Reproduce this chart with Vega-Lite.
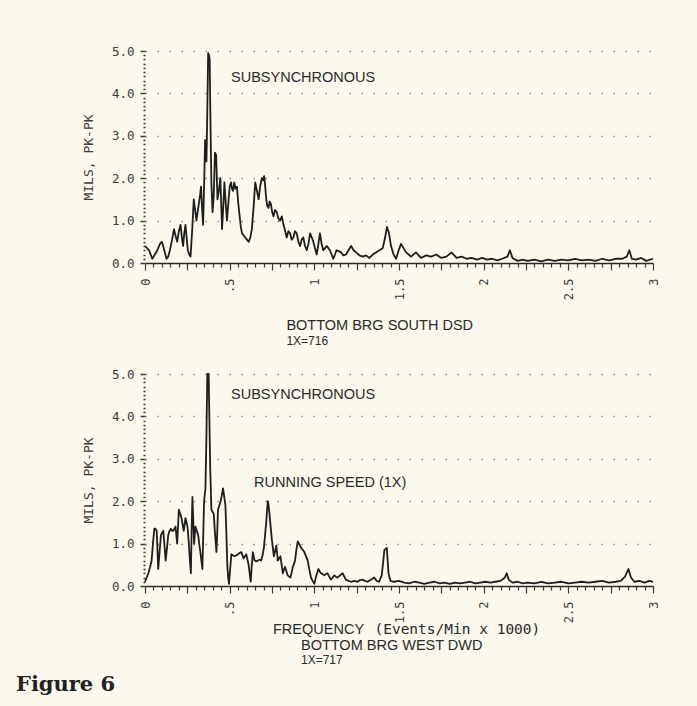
{
  "$schema": "https://vega.github.io/schema/vega-lite/v6.json",
  "background": "#fbf8ed",
  "padding": {"left": 15, "top": 45, "right": 41, "bottom": 11},
  "config": {
    "view": {"stroke": null},
    "axis": {
      "labelFont": "DejaVu Sans Mono",
      "labelFontSize": 12,
      "labelColor": "#3a3a3a",
      "titleFont": "DejaVu Sans Mono",
      "titleFontWeight": "normal",
      "titleFontSize": 13,
      "titleColor": "#3a3a3a",
      "tickColor": "#3a3a3a",
      "domainColor": "#2a2a2a",
      "gridColor": "#8a8a8a",
      "labelOverlap": false,
      "labelFlush": false,
      "labelBound": false
    }
  },
  "datasets": {
    "top": [
      {"f":0.000,"a":0.40},{"f":0.012,"a":0.35},{"f":0.024,"a":0.30},{"f":0.043,"a":0.10},{"f":0.058,"a":0.20},{"f":0.073,"a":0.30},{"f":0.088,"a":0.45},{"f":0.100,"a":0.50},{"f":0.114,"a":0.30},{"f":0.127,"a":0.10},{"f":0.137,"a":0.15},{"f":0.147,"a":0.30},{"f":0.160,"a":0.55},{"f":0.171,"a":0.80},{"f":0.180,"a":0.65},{"f":0.190,"a":0.50},{"f":0.200,"a":0.75},{"f":0.210,"a":0.90},{"f":0.218,"a":0.60},{"f":0.225,"a":0.40},{"f":0.232,"a":0.70},{"f":0.239,"a":0.90},{"f":0.246,"a":0.60},{"f":0.253,"a":0.30},{"f":0.261,"a":0.20},{"f":0.269,"a":0.15},{"f":0.279,"a":0.80},{"f":0.288,"a":1.50},{"f":0.296,"a":1.25},{"f":0.304,"a":1.00},{"f":0.311,"a":1.20},{"f":0.318,"a":1.40},{"f":0.325,"a":1.60},{"f":0.331,"a":1.80},{"f":0.337,"a":1.30},{"f":0.343,"a":0.90},{"f":0.349,"a":1.80},{"f":0.355,"a":2.90},{"f":0.359,"a":2.70},{"f":0.363,"a":2.40},{"f":0.368,"a":3.60},{"f":0.373,"a":4.95},{"f":0.378,"a":4.90},{"f":0.382,"a":4.80},{"f":0.387,"a":3.20},{"f":0.392,"a":1.90},{"f":0.399,"a":1.20},{"f":0.406,"a":1.60},{"f":0.413,"a":2.60},{"f":0.420,"a":2.55},{"f":0.428,"a":1.50},{"f":0.436,"a":1.70},{"f":0.445,"a":2.00},{"f":0.455,"a":0.80},{"f":0.462,"a":1.30},{"f":0.469,"a":1.90},{"f":0.477,"a":1.40},{"f":0.484,"a":1.00},{"f":0.492,"a":1.40},{"f":0.500,"a":1.80},{"f":0.508,"a":1.90},{"f":0.514,"a":1.75},{"f":0.520,"a":1.70},{"f":0.527,"a":1.90},{"f":0.535,"a":1.75},{"f":0.543,"a":1.80},{"f":0.551,"a":1.40},{"f":0.559,"a":1.10},{"f":0.566,"a":0.85},{"f":0.573,"a":0.70},{"f":0.583,"a":0.65},{"f":0.592,"a":0.60},{"f":0.602,"a":0.55},{"f":0.612,"a":0.50},{"f":0.622,"a":0.60},{"f":0.631,"a":0.80},{"f":0.641,"a":1.30},{"f":0.651,"a":1.90},{"f":0.661,"a":1.70},{"f":0.671,"a":1.50},{"f":0.680,"a":1.80},{"f":0.690,"a":2.00},{"f":0.697,"a":1.95},{"f":0.704,"a":2.05},{"f":0.710,"a":1.80},{"f":0.716,"a":1.50},{"f":0.722,"a":1.35},{"f":0.729,"a":1.30},{"f":0.736,"a":1.45},{"f":0.743,"a":1.40},{"f":0.751,"a":1.20},{"f":0.759,"a":1.10},{"f":0.768,"a":1.25},{"f":0.778,"a":1.20},{"f":0.788,"a":1.05},{"f":0.798,"a":1.00},{"f":0.808,"a":1.10},{"f":0.818,"a":0.90},{"f":0.828,"a":0.75},{"f":0.837,"a":0.60},{"f":0.847,"a":0.75},{"f":0.857,"a":0.70},{"f":0.866,"a":0.55},{"f":0.876,"a":0.60},{"f":0.886,"a":0.75},{"f":0.896,"a":0.70},{"f":0.906,"a":0.50},{"f":0.916,"a":0.40},{"f":0.925,"a":0.55},{"f":0.935,"a":0.60},{"f":0.945,"a":0.40},{"f":0.955,"a":0.30},{"f":0.965,"a":0.45},{"f":0.975,"a":0.70},{"f":0.985,"a":0.60},{"f":0.994,"a":0.50},{"f":1.004,"a":0.35},{"f":1.014,"a":0.20},{"f":1.024,"a":0.45},{"f":1.033,"a":0.70},{"f":1.043,"a":0.45},{"f":1.053,"a":0.30},{"f":1.063,"a":0.35},{"f":1.073,"a":0.40},{"f":1.083,"a":0.35},{"f":1.092,"a":0.30},{"f":1.102,"a":0.20},{"f":1.112,"a":0.10},{"f":1.122,"a":0.20},{"f":1.131,"a":0.30},{"f":1.145,"a":0.28},{"f":1.158,"a":0.25},{"f":1.172,"a":0.18},{"f":1.187,"a":0.20},{"f":1.202,"a":0.30},{"f":1.217,"a":0.40},{"f":1.232,"a":0.30},{"f":1.246,"a":0.25},{"f":1.266,"a":0.18},{"f":1.286,"a":0.15},{"f":1.305,"a":0.18},{"f":1.325,"a":0.12},{"f":1.345,"a":0.20},{"f":1.364,"a":0.25},{"f":1.384,"a":0.30},{"f":1.404,"a":0.35},{"f":1.418,"a":0.60},{"f":1.429,"a":0.85},{"f":1.441,"a":0.70},{"f":1.453,"a":0.40},{"f":1.468,"a":0.20},{"f":1.483,"a":0.10},{"f":1.498,"a":0.30},{"f":1.512,"a":0.45},{"f":1.527,"a":0.35},{"f":1.542,"a":0.25},{"f":1.557,"a":0.20},{"f":1.571,"a":0.15},{"f":1.585,"a":0.20},{"f":1.600,"a":0.25},{"f":1.63,"a":0.12},{"f":1.66,"a":0.18},{"f":1.69,"a":0.15},{"f":1.72,"a":0.20},{"f":1.75,"a":0.12},{"f":1.78,"a":0.15},{"f":1.81,"a":0.25},{"f":1.84,"a":0.12},{"f":1.87,"a":0.15},{"f":1.90,"a":0.10},{"f":1.93,"a":0.12},{"f":1.96,"a":0.08},{"f":1.99,"a":0.12},{"f":2.02,"a":0.08},{"f":2.05,"a":0.10},{"f":2.08,"a":0.06},{"f":2.11,"a":0.10},{"f":2.14,"a":0.15},{"f":2.155,"a":0.30},{"f":2.17,"a":0.12},{"f":2.20,"a":0.05},{"f":2.23,"a":0.08},{"f":2.26,"a":0.05},{"f":2.30,"a":0.08},{"f":2.34,"a":0.04},{"f":2.38,"a":0.08},{"f":2.42,"a":0.05},{"f":2.46,"a":0.08},{"f":2.50,"a":0.06},{"f":2.54,"a":0.10},{"f":2.58,"a":0.06},{"f":2.62,"a":0.08},{"f":2.66,"a":0.05},{"f":2.70,"a":0.10},{"f":2.74,"a":0.06},{"f":2.78,"a":0.10},{"f":2.82,"a":0.10},{"f":2.845,"a":0.15},{"f":2.86,"a":0.30},{"f":2.875,"a":0.10},{"f":2.90,"a":0.08},{"f":2.93,"a":0.12},{"f":2.96,"a":0.05},{"f":3.00,"a":0.10}
    ],
    "bottom": [
      {"f":0.000,"a":0.10},{"f":0.010,"a":0.20},{"f":0.020,"a":0.30},{"f":0.030,"a":0.45},{"f":0.039,"a":0.60},{"f":0.047,"a":1.00},{"f":0.055,"a":1.35},{"f":0.062,"a":1.35},{"f":0.069,"a":1.30},{"f":0.078,"a":0.40},{"f":0.086,"a":0.80},{"f":0.094,"a":1.20},{"f":0.101,"a":1.25},{"f":0.108,"a":1.30},{"f":0.115,"a":0.95},{"f":0.122,"a":0.60},{"f":0.130,"a":0.90},{"f":0.137,"a":1.20},{"f":0.145,"a":1.30},{"f":0.153,"a":1.35},{"f":0.160,"a":1.30},{"f":0.167,"a":1.30},{"f":0.174,"a":1.35},{"f":0.180,"a":1.40},{"f":0.185,"a":1.20},{"f":0.190,"a":1.00},{"f":0.195,"a":1.40},{"f":0.200,"a":1.80},{"f":0.208,"a":1.70},{"f":0.216,"a":1.60},{"f":0.222,"a":1.45},{"f":0.229,"a":1.30},{"f":0.234,"a":1.45},{"f":0.239,"a":1.60},{"f":0.245,"a":1.50},{"f":0.251,"a":1.40},{"f":0.255,"a":1.20},{"f":0.259,"a":1.00},{"f":0.265,"a":0.60},{"f":0.271,"a":0.30},{"f":0.275,"a":1.20},{"f":0.280,"a":2.10},{"f":0.285,"a":1.55},{"f":0.290,"a":1.00},{"f":0.294,"a":1.20},{"f":0.298,"a":1.40},{"f":0.306,"a":1.30},{"f":0.314,"a":1.20},{"f":0.320,"a":1.00},{"f":0.327,"a":0.80},{"f":0.333,"a":0.60},{"f":0.339,"a":0.40},{"f":0.344,"a":1.20},{"f":0.349,"a":2.00},{"f":0.353,"a":2.15},{"f":0.357,"a":2.30},{"f":0.363,"a":3.60},{"f":0.368,"a":5.00},{"f":0.372,"a":5.00},{"f":0.376,"a":5.00},{"f":0.380,"a":4.00},{"f":0.385,"a":2.80},{"f":0.392,"a":1.80},{"f":0.399,"a":1.75},{"f":0.406,"a":1.70},{"f":0.414,"a":1.20},{"f":0.422,"a":0.80},{"f":0.427,"a":1.30},{"f":0.431,"a":1.80},{"f":0.439,"a":1.90},{"f":0.447,"a":2.00},{"f":0.454,"a":2.15},{"f":0.461,"a":2.30},{"f":0.468,"a":2.10},{"f":0.475,"a":1.90},{"f":0.481,"a":1.20},{"f":0.486,"a":0.50},{"f":0.491,"a":0.20},{"f":0.496,"a":0.05},{"f":0.503,"a":0.40},{"f":0.510,"a":0.75},{"f":0.520,"a":0.72},{"f":0.529,"a":0.70},{"f":0.539,"a":0.72},{"f":0.549,"a":0.75},{"f":0.559,"a":0.78},{"f":0.569,"a":0.80},{"f":0.576,"a":0.72},{"f":0.582,"a":0.65},{"f":0.590,"a":0.70},{"f":0.598,"a":0.75},{"f":0.605,"a":0.62},{"f":0.612,"a":0.50},{"f":0.618,"a":0.30},{"f":0.624,"a":0.10},{"f":0.630,"a":0.45},{"f":0.637,"a":0.80},{"f":0.642,"a":0.70},{"f":0.647,"a":0.60},{"f":0.657,"a":0.58},{"f":0.667,"a":0.60},{"f":0.677,"a":0.62},{"f":0.686,"a":0.60},{"f":0.694,"a":0.72},{"f":0.702,"a":0.90},{"f":0.709,"a":1.20},{"f":0.716,"a":1.50},{"f":0.721,"a":1.80},{"f":0.725,"a":2.00},{"f":0.730,"a":1.90},{"f":0.735,"a":1.70},{"f":0.742,"a":1.40},{"f":0.749,"a":1.10},{"f":0.755,"a":0.90},{"f":0.761,"a":0.70},{"f":0.768,"a":0.82},{"f":0.775,"a":0.95},{"f":0.780,"a":0.78},{"f":0.784,"a":0.60},{"f":0.792,"a":0.65},{"f":0.800,"a":0.70},{"f":0.807,"a":0.50},{"f":0.814,"a":0.30},{"f":0.820,"a":0.38},{"f":0.827,"a":0.45},{"f":0.835,"a":0.35},{"f":0.843,"a":0.25},{"f":0.851,"a":0.22},{"f":0.859,"a":0.20},{"f":0.866,"a":0.32},{"f":0.873,"a":0.45},{"f":0.880,"a":0.52},{"f":0.886,"a":0.60},{"f":0.894,"a":0.85},{"f":0.902,"a":1.05},{"f":0.912,"a":0.98},{"f":0.922,"a":0.90},{"f":0.932,"a":0.85},{"f":0.941,"a":0.80},{"f":0.951,"a":0.70},{"f":0.961,"a":0.60},{"f":0.970,"a":0.40},{"f":0.980,"a":0.20},{"f":0.990,"a":0.12},{"f":1.000,"a":0.05},{"f":1.012,"a":0.25},{"f":1.024,"a":0.40},{"f":1.031,"a":0.35},{"f":1.039,"a":0.30},{"f":1.049,"a":0.28},{"f":1.059,"a":0.25},{"f":1.068,"a":0.28},{"f":1.078,"a":0.30},{"f":1.088,"a":0.22},{"f":1.098,"a":0.15},{"f":1.108,"a":0.20},{"f":1.118,"a":0.25},{"f":1.128,"a":0.22},{"f":1.137,"a":0.20},{"f":1.152,"a":0.25},{"f":1.167,"a":0.30},{"f":1.177,"a":0.22},{"f":1.186,"a":0.15},{"f":1.201,"a":0.12},{"f":1.216,"a":0.10},{"f":1.236,"a":0.12},{"f":1.255,"a":0.10},{"f":1.270,"a":0.14},{"f":1.284,"a":0.15},{"f":1.299,"a":0.12},{"f":1.314,"a":0.10},{"f":1.334,"a":0.15},{"f":1.353,"a":0.20},{"f":1.368,"a":0.12},{"f":1.382,"a":0.10},{"f":1.398,"a":0.25},{"f":1.414,"a":0.85},{"f":1.428,"a":0.90},{"f":1.438,"a":0.30},{"f":1.450,"a":0.12},{"f":1.47,"a":0.10},{"f":1.50,"a":0.12},{"f":1.53,"a":0.08},{"f":1.56,"a":0.06},{"f":1.59,"a":0.10},{"f":1.62,"a":0.08},{"f":1.65,"a":0.05},{"f":1.68,"a":0.08},{"f":1.71,"a":0.10},{"f":1.74,"a":0.06},{"f":1.77,"a":0.08},{"f":1.80,"a":0.05},{"f":1.83,"a":0.08},{"f":1.86,"a":0.06},{"f":1.89,"a":0.08},{"f":1.92,"a":0.10},{"f":1.95,"a":0.06},{"f":1.98,"a":0.08},{"f":2.01,"a":0.10},{"f":2.04,"a":0.08},{"f":2.07,"a":0.10},{"f":2.10,"a":0.12},{"f":2.125,"a":0.20},{"f":2.136,"a":0.30},{"f":2.148,"a":0.15},{"f":2.17,"a":0.08},{"f":2.20,"a":0.10},{"f":2.23,"a":0.06},{"f":2.26,"a":0.08},{"f":2.30,"a":0.06},{"f":2.34,"a":0.10},{"f":2.38,"a":0.06},{"f":2.42,"a":0.08},{"f":2.46,"a":0.10},{"f":2.50,"a":0.06},{"f":2.54,"a":0.08},{"f":2.58,"a":0.10},{"f":2.62,"a":0.08},{"f":2.66,"a":0.10},{"f":2.70,"a":0.12},{"f":2.74,"a":0.08},{"f":2.78,"a":0.10},{"f":2.81,"a":0.12},{"f":2.835,"a":0.22},{"f":2.855,"a":0.40},{"f":2.87,"a":0.20},{"f":2.89,"a":0.10},{"f":2.92,"a":0.12},{"f":2.95,"a":0.08},{"f":2.98,"a":0.12},{"f":3.00,"a":0.10}
    ],
    "topSans": [
      {"f":0.508,"a":4.36,"text":"SUBSYNCHRONOUS"},
      {"f":0.835,"a":-1.49,"text":"BOTTOM BRG SOUTH DSD"}
    ],
    "topSmall": [
      {"f":0.835,"a":-1.84,"text":"1X=716"}
    ],
    "bottomSans": [
      {"f":0.508,"a":4.5,"text":"SUBSYNCHRONOUS"},
      {"f":0.644,"a":2.43,"text":"RUNNING SPEED (1X)"},
      {"f":0.756,"a":-1.04,"text":"FREQUENCY"},
      {"f":0.921,"a":-1.415,"text":"BOTTOM BRG WEST DWD"}
    ],
    "bottomMono": [
      {"f":1.355,"a":-1.04,"text":"(Events/Min x 1000)"}
    ],
    "bottomSmall": [
      {"f":0.921,"a":-1.745,"text":"1X=717"}
    ],
    "figure": [
      {"f":-0.762,"a":-2.33,"text":"Figure 6"}
    ]
  },
  "vconcat": [
    {
      "width": 508,
      "height": 212,
      "encoding": {
        "x": {
          "field": "f", "type": "quantitative",
          "scale": {"domain": [0, 3], "nice": false, "zero": false},
          "axis": {
            "title": null,
            "tickCount": 60,
            "labelAngle": 270,
            "labelPadding": 8,
            "labelExpr": "abs(datum.value*2 - round(datum.value*2)) < 0.001 ? replace(format(datum.value, '~g'), '0.', '.') : ''",
            "tickSize": {"condition": {"test": "abs(datum.value*4 - round(datum.value*4)) < 0.001", "value": 7}, "value": 4},
            "tickWidth": 1.2,
            "domainWidth": 1.5,
            "grid": false
          }
        },
        "y": {
          "field": "a", "type": "quantitative",
          "scale": {"domain": [0, 5], "nice": false},
          "axis": {
            "title": "MILS, PK-PK",
            "titlePadding": 16,
            "tickCount": 50,
            "domain": false,
            "labelPadding": 6,
            "labelFontSize": 12.5,
            "labelExpr": "abs(datum.value - round(datum.value)) < 0.001 ? format(datum.value, '.1f') : ''",
            "tickSize": {"condition": {"test": "abs(datum.value - round(datum.value)) < 0.001", "value": 5}, "value": 2},
            "tickWidth": 1.5,
            "grid": true,
            "gridDash": [1.5, 10.5],
            "gridWidth": 1.3,
            "gridOpacity": {"condition": {"test": "abs(datum.value - round(datum.value)) < 0.001 && datum.value > 0.5", "value": 1}, "value": 0}
          }
        }
      },
      "layer": [
        {
          "mark": {"type": "rule", "color": "#777", "strokeWidth": 1},
          "encoding": {"x": {"datum": 0.372}, "y": {"datum": 0}, "y2": {"datum": 5}}
        },
        {
          "data": {"name": "top"},
          "mark": {"type": "line", "color": "#1e1e1e", "strokeWidth": 1.8, "strokeJoin": "round"}
        },
        {
          "data": {"name": "topSans"},
          "mark": {"type": "text", "align": "left", "baseline": "middle", "font": "Liberation Sans", "fontSize": 14.5, "color": "#2a2a2a"},
          "encoding": {"text": {"field": "text"}}
        },
        {
          "data": {"name": "topSmall"},
          "mark": {"type": "text", "align": "left", "baseline": "middle", "font": "Liberation Sans", "fontSize": 12, "color": "#2a2a2a"},
          "encoding": {"text": {"field": "text"}}
        }
      ]
    },
    {
      "width": 508,
      "height": 212,
      "encoding": {
        "x": {
          "field": "f", "type": "quantitative",
          "scale": {"domain": [0, 3], "nice": false, "zero": false},
          "axis": {
            "title": null,
            "tickCount": 60,
            "labelAngle": 270,
            "labelPadding": 8,
            "labelExpr": "abs(datum.value*2 - round(datum.value*2)) < 0.001 ? replace(format(datum.value, '~g'), '0.', '.') : ''",
            "tickSize": {"condition": {"test": "abs(datum.value*4 - round(datum.value*4)) < 0.001", "value": 7}, "value": 4},
            "tickWidth": 1.2,
            "domainWidth": 1.5,
            "grid": false
          }
        },
        "y": {
          "field": "a", "type": "quantitative",
          "scale": {"domain": [0, 5], "nice": false},
          "axis": {
            "title": "MILS, PK-PK",
            "titlePadding": 16,
            "tickCount": 50,
            "domain": false,
            "labelPadding": 6,
            "labelFontSize": 12.5,
            "labelExpr": "abs(datum.value - round(datum.value)) < 0.001 ? format(datum.value, '.1f') : ''",
            "tickSize": {"condition": {"test": "abs(datum.value - round(datum.value)) < 0.001", "value": 5}, "value": 2},
            "tickWidth": 1.5,
            "grid": true,
            "gridDash": [1.5, 10.5],
            "gridWidth": 1.3,
            "gridOpacity": {"condition": {"test": "abs(datum.value - round(datum.value)) < 0.001 && datum.value > 0.5", "value": 1}, "value": 0}
          }
        }
      },
      "layer": [
        {
          "mark": {"type": "rule", "color": "#777", "strokeWidth": 1},
          "encoding": {"x": {"datum": 0.367}, "y": {"datum": 0}, "y2": {"datum": 5}}
        },
        {
          "data": {"name": "bottom"},
          "mark": {"type": "line", "color": "#1e1e1e", "strokeWidth": 1.8, "strokeJoin": "round"}
        },
        {
          "data": {"name": "bottomSans"},
          "mark": {"type": "text", "align": "left", "baseline": "middle", "font": "Liberation Sans", "fontSize": 14.5, "color": "#2a2a2a"},
          "encoding": {"text": {"field": "text"}}
        },
        {
          "data": {"name": "bottomMono"},
          "mark": {"type": "text", "align": "left", "baseline": "middle", "font": "DejaVu Sans Mono", "fontSize": 14.5, "color": "#2a2a2a"},
          "encoding": {"text": {"field": "text"}}
        },
        {
          "data": {"name": "bottomSmall"},
          "mark": {"type": "text", "align": "left", "baseline": "middle", "font": "Liberation Sans", "fontSize": 12, "color": "#2a2a2a"},
          "encoding": {"text": {"field": "text"}}
        },
        {
          "data": {"name": "figure"},
          "mark": {"type": "text", "align": "left", "baseline": "middle", "font": "DejaVu Serif", "fontWeight": "bold", "fontSize": 21, "color": "#222"},
          "encoding": {"text": {"field": "text"}}
        }
      ]
    }
  ],
  "spacing": 111,
  "bounds": "flush"
}
